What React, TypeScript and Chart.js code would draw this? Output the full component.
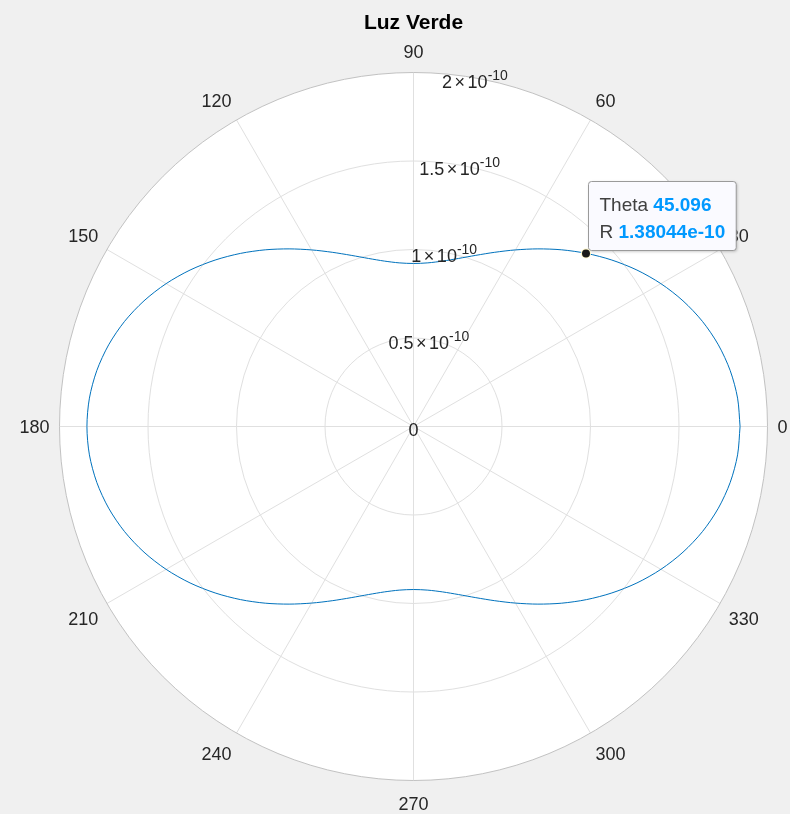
import React, { useEffect, useRef } from "react";
import { Chart, registerables } from "chart.js";

Chart.register(...registerables);

const TITLE = "Luz Verde";

// angle (degrees) of each sample
const THETA_DEG = [
  0, 5, 10, 15, 20, 25, 30, 35, 40, 45, 50, 55, 60, 65, 70, 75, 80, 85, 90,
  95, 100, 105, 110, 115, 120, 125, 130, 135, 140, 145, 150, 155, 160, 165, 170, 175, 180,
  185, 190, 195, 200, 205, 210, 215, 220, 225, 230, 235, 240, 245, 250, 255, 260, 265, 270,
  275, 280, 285, 290, 295, 300, 305, 310, 315, 320, 325, 330, 335, 340, 345, 350, 355, 360,
];

// radius in units of 10^R_EXPONENT
const R_VALUES = [
  1.845, 1.838, 1.817, 1.783, 1.737, 1.68, 1.614, 1.541, 1.463, 1.383, 1.303, 1.225, 1.152, 1.086, 1.029, 0.983, 0.949, 0.928, 0.921,
  0.928, 0.949, 0.983, 1.029, 1.086, 1.152, 1.225, 1.303, 1.383, 1.463, 1.541, 1.614, 1.68, 1.737, 1.783, 1.817, 1.838, 1.845,
  1.838, 1.817, 1.783, 1.737, 1.68, 1.614, 1.541, 1.463, 1.383, 1.303, 1.225, 1.152, 1.086, 1.029, 0.983, 0.949, 0.928, 0.921,
  0.928, 0.949, 0.983, 1.029, 1.086, 1.152, 1.225, 1.303, 1.383, 1.463, 1.541, 1.614, 1.68, 1.737, 1.783, 1.817, 1.838, 1.845,
];
const R_EXPONENT = -10;
const R_MAX = 2;

const ANGLE_TICKS = [0, 30, 60, 90, 120, 150, 180, 210, 240, 270, 300, 330];
const ANGLE_TICK_LABELS = ["0", "30", "60", "90", "120", "150", "180", "210", "240", "270", "300", "330"];

const R_TICKS = [0, 0.5, 1, 1.5, 2];
const R_TICK_LABELS = ["0", "0.5", "1", "1.5", "2"];
const R_AXIS_ANGLE = 80;

const DATATIP_THETA = 45.096;
const DATATIP_R = 1.38044;
const DATATIP_THETA_TEXT = "45.096";
const DATATIP_R_TEXT = "1.38044e-10";

const FONT = '"Liberation Sans", Arial, Helvetica, sans-serif';
const TEXT_COLOR = "#262626";

const rad = (d: number) => (d * Math.PI) / 180;

const polarPlugin = {
  id: "polarGrid",
  beforeDatasetsDraw(chart: any) {
    const { ctx, width, height } = chart;
    const xs = chart.scales.x;
    const ys = chart.scales.y;
    const cx = xs.getPixelForValue(0);
    const cy = ys.getPixelForValue(0);
    const R = xs.getPixelForValue(R_MAX) - cx;
    ctx.save();
    ctx.fillStyle = "#f0f0f0";
    ctx.fillRect(0, 0, width, height);
    ctx.beginPath();
    ctx.arc(cx, cy, R, 0, Math.PI * 2);
    ctx.fillStyle = "#ffffff";
    ctx.fill();

    ctx.strokeStyle = "#e0e0e0";
    ctx.lineWidth = 1;
    R_TICKS.forEach((r) => {
      if (r <= 0 || r >= R_MAX) return;
      const rr = xs.getPixelForValue(r) - cx;
      ctx.beginPath();
      ctx.arc(cx, cy, rr, 0, Math.PI * 2);
      ctx.stroke();
    });
    ANGLE_TICKS.forEach((a) => {
      const px = xs.getPixelForValue(R_MAX * Math.cos(rad(a)));
      const py = ys.getPixelForValue(R_MAX * Math.sin(rad(a)));
      ctx.beginPath();
      ctx.moveTo(cx, cy);
      ctx.lineTo(px, py);
      ctx.stroke();
    });
    ctx.beginPath();
    ctx.arc(cx, cy, R, 0, Math.PI * 2);
    ctx.strokeStyle = "#c2c2c2";
    ctx.stroke();
    ctx.restore();
  },
  afterDatasetsDraw(chart: any) {
    const { ctx } = chart;
    const xs = chart.scales.x;
    const ys = chart.scales.y;
    const cx = xs.getPixelForValue(0);
    const cy = ys.getPixelForValue(0);
    const R = xs.getPixelForValue(R_MAX) - cx;
    ctx.save();

    // angle labels
    ctx.font = `18px ${FONT}`;
    ctx.fillStyle = TEXT_COLOR;
    const capH = 13;
    ANGLE_TICKS.forEach((a, i) => {
      const c = Math.cos(rad(a));
      const s = Math.sin(rad(a));
      const ax = cx + (R + 10) * c;
      const ay = s >= 0 ? cy - (R + 14.5) * s : cy - (R + 16) * s;
      let align: CanvasTextAlign = "center";
      if (c > 0.01) align = "left";
      else if (c < -0.01) align = "right";
      let by = ay + capH / 2;
      if (s > 0.01) by = ay;
      else if (s < -0.01) by = ay + capH;
      ctx.textAlign = align;
      ctx.textBaseline = "alphabetic";
      ctx.fillText(ANGLE_TICK_LABELS[i], ax, by);
    });

    // radial tick labels
    R_TICKS.forEach((r, i) => {
      const px = xs.getPixelForValue(r * Math.cos(rad(R_AXIS_ANGLE)));
      const py = ys.getPixelForValue(r * Math.sin(rad(R_AXIS_ANGLE)));
      const base = py + 10;
      ctx.textBaseline = "alphabetic";
      ctx.textAlign = "left";
      ctx.fillStyle = TEXT_COLOR;
      if (r === 0) {
        ctx.font = `18px ${FONT}`;
        ctx.textAlign = "center";
        ctx.fillText(R_TICK_LABELS[i], px, base - 1);
        return;
      }
      ctx.font = `18px ${FONT}`;
      const m = R_TICK_LABELS[i];
      const wm = ctx.measureText(m).width;
      const wx = ctx.measureText("×").width;
      const w10 = ctx.measureText("10").width;
      ctx.font = `14px ${FONT}`;
      const sup = String(R_EXPONENT);
      const ws = ctx.measureText(sup).width;
      const gap = 2.5;
      const total = wm + gap + wx + gap + w10 + ws;
      let x0 = px - total / 2;
      ctx.font = `18px ${FONT}`;
      ctx.fillText(m, x0, base);
      x0 += wm + gap;
      ctx.fillText("×", x0, base);
      x0 += wx + gap;
      ctx.fillText("10", x0, base);
      x0 += w10;
      ctx.font = `14px ${FONT}`;
      ctx.fillText(sup, x0, base - 8);
    });

    // datatip
    const tx = xs.getPixelForValue(DATATIP_R * Math.cos(rad(DATATIP_THETA)));
    const ty = ys.getPixelForValue(DATATIP_R * Math.sin(rad(DATATIP_THETA)));
    const tipFont = 19;
    ctx.font = `${tipFont}px ${FONT}`;
    const l1 = ctx.measureText("Theta ").width;
    const l2 = ctx.measureText("R ").width;
    ctx.font = `bold ${tipFont}px ${FONT}`;
    const v1 = ctx.measureText(DATATIP_THETA_TEXT).width;
    const v2 = ctx.measureText(DATATIP_R_TEXT).width;
    const bw = Math.max(l1 + v1, l2 + v2) + 22;
    const bh = 69;
    const bx = Math.round(tx + 2) + 0.5;
    const by = Math.round(ty - 3 - bh) + 0.5;
    ctx.save();
    ctx.shadowColor = "rgba(0,0,0,0.25)";
    ctx.shadowBlur = 3;
    ctx.shadowOffsetX = 1;
    ctx.shadowOffsetY = 1;
    ctx.beginPath();
    ctx.roundRect(bx, by, bw, bh, 3);
    ctx.fillStyle = "#fafaff";
    ctx.fill();
    ctx.restore();
    ctx.beginPath();
    ctx.roundRect(bx, by, bw, bh, 3);
    ctx.strokeStyle = "#9a9a9a";
    ctx.lineWidth = 1;
    ctx.stroke();
    ctx.textAlign = "left";
    ctx.textBaseline = "alphabetic";
    ctx.font = `${tipFont}px ${FONT}`;
    ctx.fillStyle = "#404040";
    ctx.fillText("Theta ", bx + 11, by + 29.5);
    ctx.fillText("R ", bx + 11, by + 56);
    ctx.font = `bold ${tipFont}px ${FONT}`;
    ctx.fillStyle = "#0099ff";
    ctx.fillText(DATATIP_THETA_TEXT, bx + 11 + l1, by + 29.5);
    ctx.fillText(DATATIP_R_TEXT, bx + 11 + l2, by + 56);

    // datatip marker
    ctx.beginPath();
    ctx.arc(tx, ty, 5, 0, Math.PI * 2);
    ctx.fillStyle = "#fff7c8";
    ctx.fill();
    ctx.beginPath();
    ctx.arc(tx, ty, 4, 0, Math.PI * 2);
    ctx.fillStyle = "#1a1a1a";
    ctx.fill();

    // title
    ctx.font = `bold 21px ${FONT}`;
    ctx.fillStyle = "#000000";
    ctx.textAlign = "center";
    ctx.fillText(TITLE, cx, 29);
    ctx.restore();
  },
};

export default function App() {
  const ref = useRef<HTMLCanvasElement | null>(null);
  useEffect(() => {
    if (!ref.current) return;
    const points = THETA_DEG.map((t, i) => ({
      x: R_VALUES[i] * Math.cos(rad(t)),
      y: R_VALUES[i] * Math.sin(rad(t)),
    }));
    const chart = new Chart(ref.current, {
      type: "scatter",
      data: {
        datasets: [
          {
            data: points,
            showLine: true,
            borderColor: "#0072BD",
            borderWidth: 1,
            pointRadius: 0,
            tension: 0.3,
            fill: false,
          },
        ],
      },
      options: {
        responsive: false,
        animation: false,
        devicePixelRatio: 1,
        events: [],
        layout: { padding: { left: 59.5, right: 22.5, top: 72.5, bottom: 33.5 } },
        scales: {
          x: { type: "linear", min: -R_MAX, max: R_MAX, display: false },
          y: { type: "linear", min: -R_MAX, max: R_MAX, display: false },
        },
        plugins: {
          legend: { display: false },
          tooltip: { enabled: false },
          title: { display: false },
        },
      },
      plugins: [polarPlugin],
    } as any);
    return () => chart.destroy();
  }, []);
  return (
    <div style={{ position: "fixed", left: 0, top: 0, width: 790, height: 814, background: "#f0f0f0" }}>
      <canvas ref={ref} width={790} height={814} style={{ display: "block" }} />
    </div>
  );
}
